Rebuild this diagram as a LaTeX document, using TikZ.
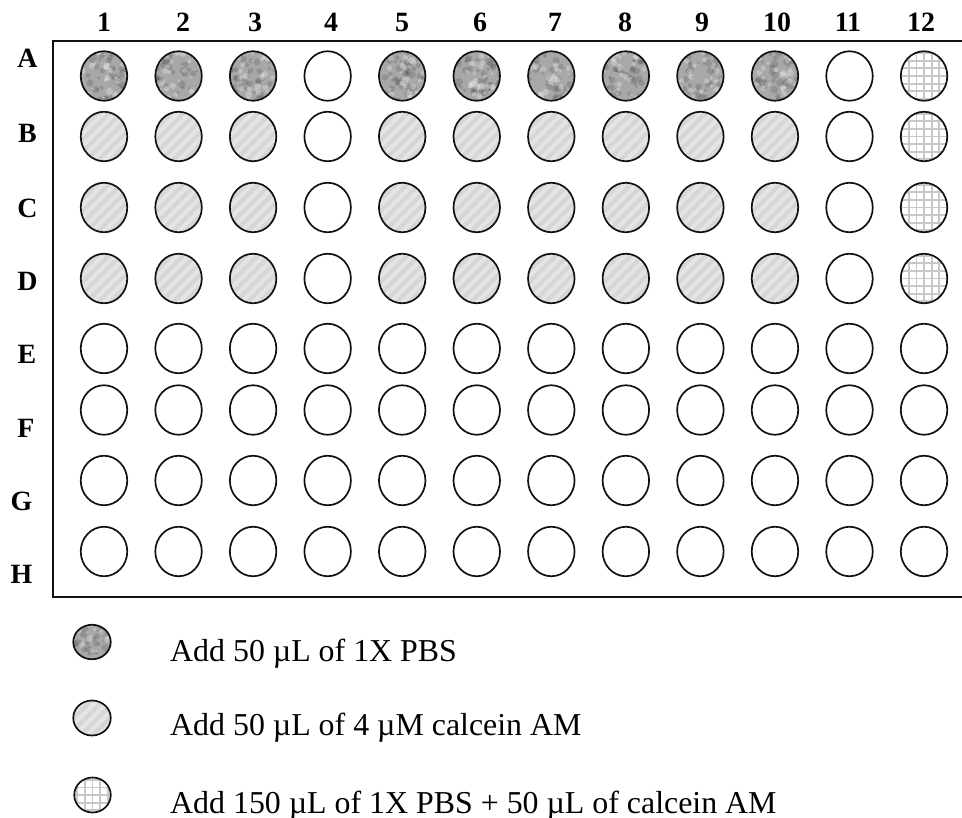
\documentclass[tikz,border=0pt]{standalone}
\usepackage{fontspec}
\setmainfont{Liberation Serif}
\usepackage{xcolor}
\definecolor{PlateInk}{HTML}{111111}
\definecolor{WellDark}{HTML}{A8A8A8}
\definecolor{WellLight}{HTML}{D6D6D6}
\definecolor{GridGray}{HTML}{C8C8C8}
\usetikzlibrary{shapes.geometric, calc}

\begin{document}
\pgfmathsetseed{11}
\begin{tikzpicture}[
    x=1bp, y=-1bp,
    well/.style={draw=PlateInk, ellipse, line width=1.7bp, inner sep=0pt, minimum width=46.5bp, minimum height=49.5bp},
    pbswell/.style={well, fill=WellDark, path picture={
        \foreach \k in {1,...,45}
          \fill[black, opacity=.13] ($(path picture bounding box.center)+(24*rand,26*rand)$) circle ({1.5+2.5*rnd});
        \foreach \k in {1,...,30}
          \fill[white, opacity=.28] ($(path picture bounding box.center)+(24*rand,26*rand)$) circle ({1.5+2*rnd});}},
    calwell/.style={well, fill=WellLight, path picture={
        \foreach \s in {-3,...,3}
          \draw[white, opacity=.35, line width=4bp] ($(path picture bounding box.center)+(\s*12-30,30)$) -- ++(60,-60);}},
    mixwell/.style={well, fill=white, path picture={
        \foreach \g in {-3,...,3}{
          \draw[GridGray, line width=1.8bp] ([xshift={\g*7.6bp}]path picture bounding box.north) -- ([xshift={\g*7.6bp}]path picture bounding box.south);
          \draw[GridGray, line width=1.8bp] ([yshift={\g*7.6bp}]path picture bounding box.west) -- ([yshift={\g*7.6bp}]path picture bounding box.east);}}},
    collab/.style={font=\fontsize{28}{30}\selectfont\bfseries, anchor=base},
    rowlab/.style={font=\fontsize{28}{30}\selectfont\bfseries, anchor=base},
    keytext/.style={font=\fontsize{32}{34}\selectfont, anchor=base west, inner sep=0pt}
]
\useasboundingbox (0,0) rectangle (962,818);

% plate outline (open on the right)
\draw[line width=1.8bp, PlateInk] (970,40.7) -| (53.3,597) -- (970,597);

% column and row labels
\foreach \c/\xx in {1/104, 2/183, 3/255, 4/331, 5/402, 6/480, 7/555, 8/625, 9/702, 10/777, 11/848, 12/921}
  \node[collab] (col\c) at (\xx,32) {\c};
\foreach \r/\xx/\yy in {A/27.5/68, B/27.5/142, C/27.5/217, D/27.5/290, E/27/363, F/26/437, G/21.5/510, H/21.5/583}
  \node[rowlab] (lab\r) at (\xx,\yy) {\r};

% wells
\foreach \r/\yy/\fst/\lst in {A/76/pbswell/mixwell, B/136.5/calwell/mixwell, C/207.5/calwell/mixwell, D/278.5/calwell/mixwell,
                              E/348.5/well/well, F/410/well/well, G/480.5/well/well, H/551.5/well/well}
  \foreach \c in {1,...,12}{
    \pgfmathsetmacro\xx{104+74.55*(\c-1)}
    \edef\st{\fst}
    \ifnum\c=4 \def\st{well}\fi
    \ifnum\c=11 \def\st{well}\fi
    \ifnum\c=12 \edef\st{\lst}\fi
    \node[\st] (\r\c) at (\xx,\yy) {};
  }

% key
\node[pbswell, minimum width=37.5bp, minimum height=34.5bp] (keyPBS) at (92,642) {};
\node[calwell, minimum width=37.5bp, minimum height=35bp] (keyCal) at (92,718) {};
\node[mixwell, minimum width=36.5bp, minimum height=35bp] (keyMix) at (92.5,795) {};
\node[keytext] (txtPBS) at (170,661) {Add 50 µL of 1X PBS};
\node[keytext] (txtCal) at (170,735) {Add 50 µL of 4 µM calcein AM};
\node[keytext] (txtMix) at (170,813) {Add 150 µL of 1X PBS + 50 µL of calcein AM};
\end{tikzpicture}
\end{document}
